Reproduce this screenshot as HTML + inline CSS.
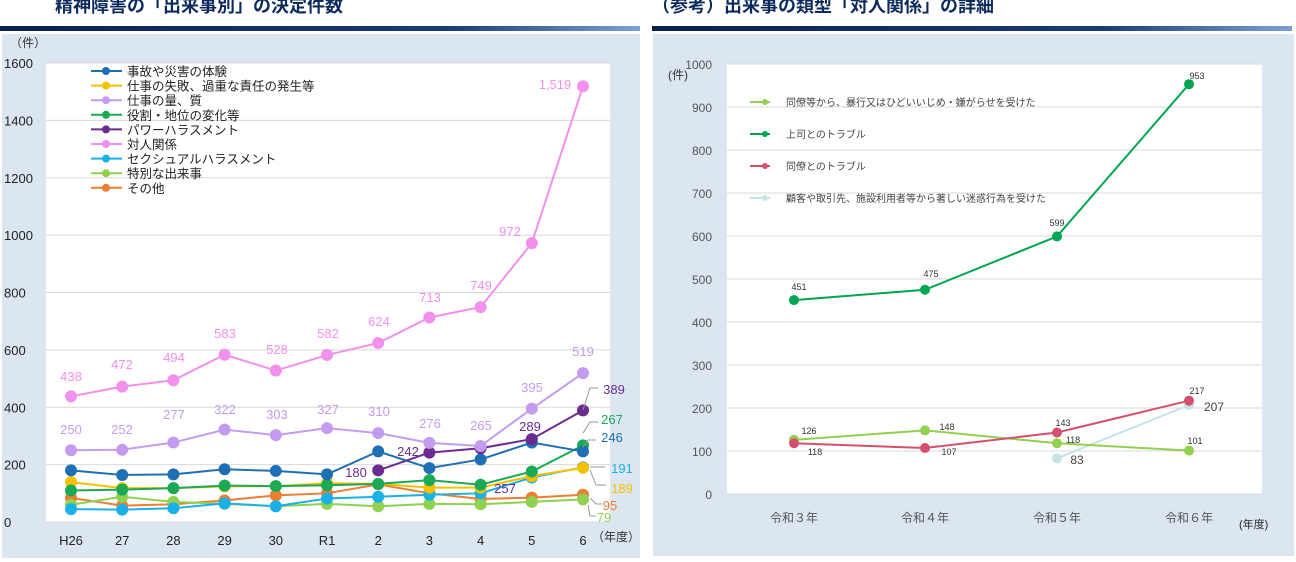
<!DOCTYPE html>
<html><head><meta charset="utf-8"><style>
html,body{margin:0;padding:0;background:#fff;width:1296px;height:562px;overflow:hidden}
svg{display:block}
text{font-family:"Liberation Sans","Noto Sans CJK JP",sans-serif}
</style></head><body>
<svg id="s" width="1296" height="562" xmlns="http://www.w3.org/2000/svg">
<defs>
<linearGradient id="g" x1="0" x2="1"><stop offset="0" stop-color="#0b1f4f"/><stop offset="0.7" stop-color="#1a3a78"/><stop offset="1" stop-color="#7f9fd4"/></linearGradient>
</defs>
<text x="55" y="12" font-size="18" font-weight="bold" fill="#0d2a5c">精神障害の「出来事別」の決定件数</text>
<text x="652" y="12" font-size="18" font-weight="bold" fill="#0d2a5c">（参考）出来事の類型「対人関係」の詳細</text>
<rect x="0" y="26" width="640" height="5" fill="url(#g)"/>
<rect x="652" y="26" width="640" height="5" fill="url(#g)"/>
<rect x="2" y="34" width="638" height="524" fill="#dce6f0"/>
<rect x="653" y="34" width="641" height="522" fill="#dce6f0"/>
<rect x="46" y="63" width="564" height="459" fill="#fff"/>
<rect x="727" y="64" width="535" height="430" fill="#fff"/>
<g id="L"></g><g id="R"></g>
</svg>
<script>
const NS="http://www.w3.org/2000/svg";
function el(p,t,a,txt){const e=document.createElementNS(NS,t);for(const k in a)e.setAttribute(k,a[k]);if(txt!==undefined)e.textContent=txt;p.appendChild(e);return e;}
const L=document.getElementById('L'),R=document.getElementById('R');
const y0=522,sc=459/1600;
for(let v=0;v<=1600;v+=200){const y=y0-v*sc;el(L,'line',{x1:46,x2:610,y1:y,y2:y,stroke:'#d9d9d9','stroke-width':1});el(L,'text',{x:4,y:y+5,'font-size':13,fill:'#222'},v);}
el(L,'text',{x:10,y:47,'font-size':12,fill:'#333'},'（件）');
const xs=[];const xl=['H26','27','28','29','30','R1','2','3','4','5','6'];
for(let i=0;i<11;i++){xs.push(71+i*51.2);el(L,'text',{x:71+i*51.2,y:545,'font-size':13,'text-anchor':'middle',fill:'#222'},xl[i]);}
el(L,'text',{x:592,y:541,'font-size':12,fill:'#333'},'（年度）');
const S=[
['#ed7d31',[84,57,62,75,93,100,131,100,80,85,95],'その他'],
['#8fd150',[60,88,70,63,55,63,55,63,62,70,79],'特別な出来事'],
['#1ab0e8',[45,43,48,65,55,82,88,95,100,155,191],'セクシュアルハラスメント'],
['#f5c000',[139,118,118,124,125,135,133,120,120,160,189],'仕事の失敗、過重な責任の発生等'],
['#1aaa55',[110,113,118,127,125,128,133,146,130,176,267],'役割・地位の変化等'],
['#1f6fb4',[180,164,166,184,178,166,246,188,218,277,246],'事故や災害の体験'],
['#6a2c91',[null,null,null,null,null,null,180,242,257,289,389],'パワーハラスメント'],
['#c39cf0',[250,252,277,322,303,327,310,276,265,395,519],'仕事の量、質'],
['#f290ee',[438,472,494,583,528,582,624,713,749,972,1519],'対人関係']];
S.forEach(s=>{let pts=[];s[1].forEach((v,i)=>{if(v!==null)pts.push([xs[i],y0-v*sc]);});
el(L,'polyline',{points:pts.map(p=>p.join(',')).join(' '),fill:'none',stroke:s[0],'stroke-width':2});
pts.forEach(p=>el(L,'circle',{cx:p[0],cy:p[1],r:6,fill:s[0]}));});
const lg=['事故や災害の体験','仕事の失敗、過重な責任の発生等','仕事の量、質','役割・地位の変化等','パワーハラスメント','対人関係','セクシュアルハラスメント','特別な出来事','その他'];
lg.forEach((n,i)=>{const c=S.find(s=>s[2]==n)[0];const y=71+i*14.6;el(L,'line',{x1:91,x2:122,y1:y,y2:y,stroke:c,'stroke-width':2});el(L,'circle',{cx:106,cy:y,r:4,fill:c});el(L,'text',{x:127,y:y+5,'font-size':12.5,fill:'#222'},n);});
const pink=[[71,381,'438'],[122,369,'472'],[174,362,'494'],[225,338,'583'],[277,354,'528'],[328,338,'582'],[379,326,'624'],[430,302,'713'],[481,290,'749'],[510,236,'972'],[555,89,'1,519']];
pink.forEach(l=>el(L,'text',{x:l[0],y:l[1],'font-size':13,'text-anchor':'middle',fill:'#f290ee'},l[2]));
const lp=[[71,434,'250'],[122,434,'252'],[174,419,'277'],[225,414,'322'],[277,419,'303'],[328,414,'327'],[379,416,'310'],[430,428,'276'],[481,430,'265'],[532,392,'395'],[583,356,'519']];
lp.forEach(l=>el(L,'text',{x:l[0],y:l[1],'font-size':13,'text-anchor':'middle',fill:'#c39cf0'},l[2]));
[[356,477,'180'],[408,456,'242'],[505,493,'257'],[530,431,'289'],[614,394,'389']].forEach(l=>el(L,'text',{x:l[0],y:l[1],'font-size':13,'text-anchor':'middle',fill:'#6a2c91'},l[2]));
[[612,424,'267','#1aaa55'],[612,442,'246','#1f6fb4'],[622,473,'191','#1ab0e8'],[622,493,'189','#f5c000'],[610,510,'95','#ed7d31'],[604,522,'79','#8fd150']].forEach(l=>el(L,'text',{x:l[0],y:l[1],'font-size':13,'text-anchor':'middle',fill:l[3]},l[2]));
[[[583,410],[590,388],[598,388]],[[583,433],[590,422],[598,422]],[[583,447],[588,440],[596,440]],[[590,467],[605,467]],[[590,470],[596,485],[606,485]],[[590,498],[596,504],[602,504]],[[588,505],[590,516],[596,516]]].forEach(p=>el(L,'polyline',{points:p.map(q=>q.join(',')).join(' '),fill:'none',stroke:'#999','stroke-width':1}));
const r0=494,rs=0.43;
for(let v=0;v<=1000;v+=100){const y=r0-v*rs;el(R,'line',{x1:727,x2:1262,y1:y,y2:y,stroke:'#d9d9d9','stroke-width':1});el(R,'text',{x:712,y:y+5,'font-size':12,'text-anchor':'end',fill:'#555'},v);}
el(R,'text',{x:668,y:79,'font-size':12,fill:'#333'},'(件)');
const rx=[794,925,1057,1189];
['令和３年','令和４年','令和５年','令和６年'].forEach((t,i)=>el(R,'text',{x:rx[i],y:522,'font-size':12,'text-anchor':'middle',fill:'#555'},t));
el(R,'text',{x:1239,y:528,'font-size':11,fill:'#222'},'(年度)');
const RS=[['#92d050',[126,148,118,101],'同僚等から、暴行又はひどいいじめ・嫌がらせを受けた'],['#00a651',[451,475,599,953],'上司とのトラブル'],['#d6506e',[118,107,143,217],'同僚とのトラブル'],['#c5e4e8',[null,null,83,207],'顧客や取引先、施設利用者等から著しい迷惑行為を受けた']];
[3,0,2,1].forEach(k=>{const s=RS[k];let pts=[];s[1].forEach((v,i)=>{if(v!==null)pts.push([rx[i],r0-v*rs]);});
el(R,'polyline',{points:pts.map(p=>p.join(',')).join(' '),fill:'none',stroke:s[0],'stroke-width':2});
pts.forEach(p=>el(R,'circle',{cx:p[0],cy:p[1],r:5,fill:s[0]}));});
RS.forEach((s,i)=>{const y=102+i*32;el(R,'line',{x1:750,x2:770,y1:y,y2:y,stroke:s[0],'stroke-width':2});el(R,'circle',{cx:765,cy:y,r:3,fill:s[0]});el(R,'text',{x:786,y:y+4,'font-size':10,fill:'#444'},s[2]);});
[[799,290,'451'],[931,277,'475'],[1057,226,'599'],[1197,79,'953'],[809,434,'126'],[947,430,'148'],[1073,443,'118'],[815,455,'118'],[949,455,'107'],[1063,426,'143'],[1197,394,'217'],[1195,444,'101']].forEach(l=>el(R,'text',{x:l[0],y:l[1],'font-size':9,'text-anchor':'middle',fill:'#333'},l[2]));
el(R,'text',{x:1214,y:411,'font-size':12,'text-anchor':'middle',fill:'#444'},'207');
el(R,'text',{x:1077,y:464,'font-size':12,'text-anchor':'middle',fill:'#444'},'83');
</script>
</body></html>
